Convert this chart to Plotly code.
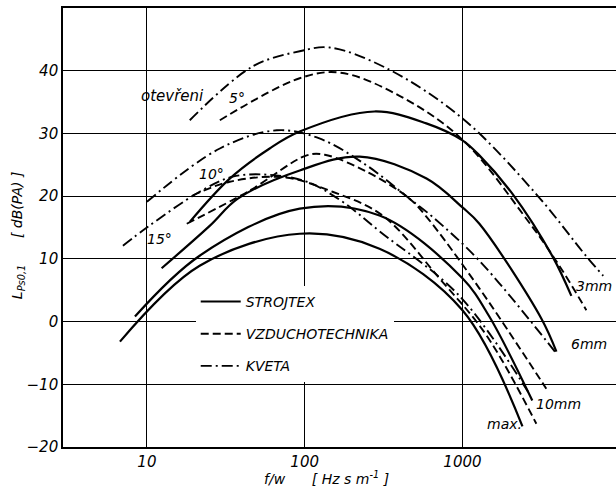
import plotly.graph_objects as go
import math

# ---- data (frequency f/w in Hz s/m, level in dB) ----
s3_f = [18.7, 33.5, 60, 93, 277, 590, 1000, 1280, 2070, 3720, 4900]
s3_L = [15.9, 22.8, 27.6, 30.3, 33.5, 31.6, 28.9, 26.5, 20.4, 10.4, 4.1]
s6_f = [12.4, 25.1, 37.7, 93, 223, 592, 1000, 1280, 3160, 3940]
s6_L = [8.5, 15.3, 19.6, 24.1, 26.3, 22.8, 18.2, 15.6, 0.5, -4.8]
s10_f = [8.4, 21.6, 93, 298, 1000, 1480, 2770]
s10_L = [0.8, 10.5, 18.0, 16.9, 6.9, 0.8, -12.6]
smax_f = [6.75, 21.6, 93, 298, 1000, 2400]
smax_L = [-3.2, 8.9, 14.0, 11.6, 1.8, -16.7]

d5_f = [29, 93, 167, 399, 1000, 2540, 4110, 6100]
d5_L = [32.1, 38.8, 39.7, 36.0, 29.0, 16.4, 8.9, 1.8]
d10_f = [17.9, 44.9, 103, 134, 247, 462, 592, 1280, 3400]
d10_L = [15.6, 20.9, 26.5, 26.6, 23.9, 19.6, 16.7, 5.3, -10.7]
d15_f = [19.5, 33.5, 74.6, 150, 312, 714, 1420, 2940]
d15_L = [20.1, 22.3, 23.0, 20.7, 16.9, 6.9, -2.2, -16.3]

k5_f = [18.7, 46.9, 93, 144, 330, 1000, 2940, 6100, 7800]
k5_L = [32.1, 40.7, 43.1, 43.7, 40.4, 32.4, 20.3, 10.4, 7.3]
k10_f = [10, 29, 66.5, 124, 247, 462, 646, 1280, 3940]
k10_L = [19.1, 27.6, 30.5, 29.2, 24.9, 19.6, 16.7, 9.7, -5.1]
k15_f = [7.05, 10, 21.6, 35, 60, 103, 174, 298, 957, 2650]
k15_L = [12.1, 15.0, 20.7, 23.1, 23.4, 22.3, 19.1, 14.4, 4.1, -11.5]

legend_names = ["STROJTEX", "VZDUCHOTECHNIKA", "KVETA"]
y_ticks = [-20, -10, 0, 10, 20, 30, 40, 50]
x_ticks = [10, 100, 1000]

FONT = "DejaVu Sans"
SOLID = dict(color="black", width=2.2, dash="solid", shape="spline")
DASH = dict(color="black", width=1.9, dash="8px,4px", shape="spline")
DASHDOT = dict(color="black", width=1.9, dash="11px,4px,2px,4px", shape="spline")

fig = go.Figure()

def add(fx, ly, style):
    fig.add_trace(go.Scatter(x=fx, y=ly, mode="lines", line=style,
                             showlegend=False, hoverinfo="skip"))

for fx, ly in [(s3_f, s3_L), (s6_f, s6_L), (s10_f, s10_L), (smax_f, smax_L)]:
    add(fx, ly, SOLID)
for fx, ly in [(d5_f, d5_L), (d10_f, d10_L), (d15_f, d15_L)]:
    add(fx, ly, DASH)
for fx, ly in [(k5_f, k5_L), (k10_f, k10_L), (k15_f, k15_L)]:
    add(fx, ly, DASHDOT)

# legend entries
for i, (name, st) in enumerate(zip(legend_names, [SOLID, DASH, DASHDOT])):
    s = dict(st); s.pop("shape")
    fig.add_trace(go.Scatter(x=[None], y=[None], mode="lines", line=s,
                             name=name, legendgroup=name, showlegend=True))

lab_font = dict(family=FONT, size=14, color="black", style="italic")
labels = [
    ("otevřeni", 1.165, 35.9), ("5°", 1.57, 35.6), ("10°", 1.411, 23.6),
    ("15°", 1.082, 13.2), ("3mm", 3.835, 5.6), ("6mm", 3.804, -3.5),
    ("10mm", 3.608, -13.1), ("max.", 3.266, -16.3),
]
for t, lx, ly in labels:
    fs = dict(lab_font)
    if t == "otevřeni":
        fs["size"] = 15
    fig.add_annotation(x=lx, y=ly, text=t, showarrow=False, font=fs,
                       xref="x", yref="y")

# axis titles
fig.add_annotation(x=-0.081, y=0.483, xref="paper", yref="paper",
                   xanchor="center", yanchor="middle",
                   text="L<sub>Ps0,1</sub>      [ dB(PA) ]", textangle=-90,
                   showarrow=False, font=dict(family=FONT, size=14, style="italic"))
fig.add_annotation(x=0.477, y=-0.0706, xref="paper", yref="paper",
                   xanchor="center", yanchor="middle",
                   text="f/w      [ Hz s m<sup>-1</sup> ]",
                   showarrow=False, font=dict(family=FONT, size=14, style="italic"))

fig.update_layout(
    width=616, height=491,
    margin=dict(l=63, r=0, t=8, b=44, autoexpand=False),
    paper_bgcolor="white", plot_bgcolor="white",
    font=dict(family=FONT, size=14, color="black", style="italic"),
    showlegend=True,
    legend=dict(x=0.24, y=0.367, xanchor="left", yanchor="top",
                bgcolor="white", borderwidth=0, tracegroupgap=11,
                font=dict(family=FONT, size=14, color="black", style="italic"),
                itemwidth=40),
)
fig.update_xaxes(type="log", range=[math.log10(2.94), math.log10(9400)],
                 tickvals=x_ticks, ticktext=[str(v) for v in x_ticks],
                 showgrid=True, gridcolor="black", gridwidth=1.2,
                 showline=True, linecolor="black", linewidth=1.6, mirror=True,
                 ticks="", zeroline=False, automargin=False,
                 tickfont=dict(family=FONT, size=15, style="italic"))
fig.update_yaxes(range=[-20, 50], tickvals=y_ticks,
                 showgrid=True, gridcolor="black", gridwidth=1.2,
                 showline=True, linecolor="black", linewidth=1.6, mirror=False,
                 ticks="", zeroline=False, automargin=False,
                 tickfont=dict(family=FONT, size=15, style="italic"))

fig.write_html("out.html", config={"displayModeBar": False},
               post_script="document.body.style.margin='0px';")
